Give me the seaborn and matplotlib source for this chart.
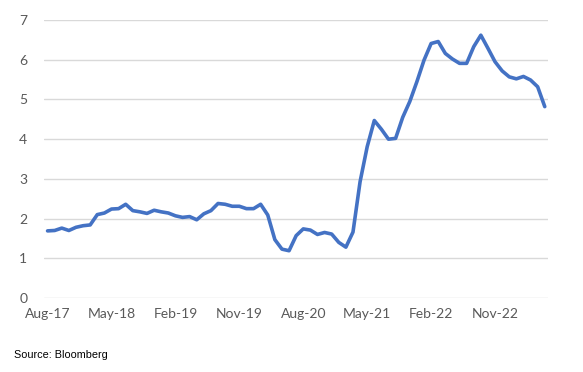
import matplotlib
matplotlib.use("Agg")
import matplotlib.pyplot as plt
import seaborn as sns
import pandas as pd

months = pd.date_range("2017-08-01", periods=71, freq="MS")
values = [1.69, 1.70, 1.76, 1.70, 1.78, 1.82, 1.84, 2.10, 2.14, 2.24,
          2.25, 2.36, 2.20, 2.17, 2.13, 2.21, 2.17, 2.14, 2.07, 2.03,
          2.05, 1.97, 2.12, 2.20, 2.38, 2.36, 2.31, 2.31, 2.25, 2.25,
          2.36, 2.09, 1.47, 1.23, 1.19, 1.57, 1.74, 1.71, 1.60, 1.65,
          1.61, 1.40, 1.28, 1.66, 2.93, 3.81, 4.47, 4.25, 4.00, 4.02,
          4.55, 4.95, 5.45, 5.99, 6.41, 6.46, 6.16, 6.02, 5.91, 5.91,
          6.33, 6.62, 6.29, 5.95, 5.72, 5.57, 5.52, 5.58, 5.49, 5.32,
          4.82]
tick_labels = ["Aug-17", "May-18", "Feb-19", "Nov-19", "Aug-20", "May-21", "Feb-22", "Nov-22"]
y_ticks = [0, 1, 2, 3, 4, 5, 6, 7]
source = "Source: Bloomberg"

df = pd.DataFrame({"idx": range(len(values)), "month": months, "value": values})

sns.set_style("white")
plt.rcParams["font.family"] = ["Lato", "DejaVu Sans"]

fig = plt.figure(figsize=(5.83, 3.72), dpi=100)
ax = fig.add_axes([0.0755, 0.199, 0.865, 0.747])

sns.lineplot(data=df, x="idx", y="value", ax=ax, color="#4472C4", linewidth=2.6)

ax.set_xlim(-0.5, len(values) - 0.5)
ax.set_ylim(0, 7)
ax.set_yticks(y_ticks)
ax.set_yticklabels([str(t) for t in y_ticks])
ax.set_xticks([i * 9 for i in range(len(tick_labels))])
ax.set_xticklabels(tick_labels)
ax.grid(axis="y", color="#d9d9d9", linewidth=1)
ax.set_axisbelow(True)
for s in ax.spines.values():
    s.set_visible(False)
ax.tick_params(axis="both", length=0, labelsize=10, colors="#595959")
ax.tick_params(axis="y", pad=12)
ax.tick_params(axis="x", pad=7)
ax.set_xlabel("")
ax.set_ylabel("")

fig.text(0.024, 0.038, source, fontsize=7.8, color="black", family=["Liberation Sans", "DejaVu Sans"])

fig.savefig("out.png", dpi=100)
